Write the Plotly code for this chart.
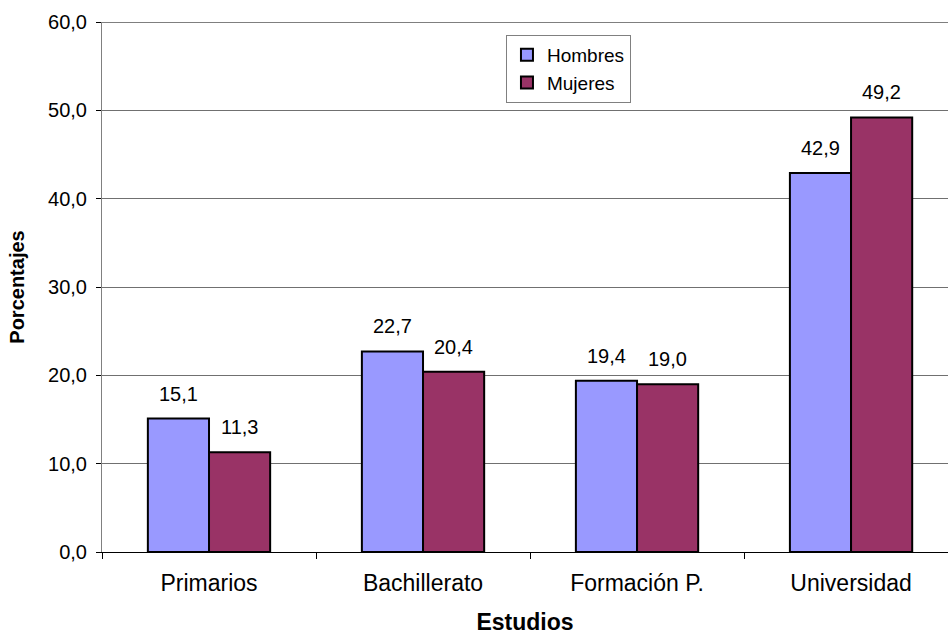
import plotly.graph_objects as go

# Nivel de estudios por sexo (%)
categorias = ["Primarios", "Bachillerato", "Formación P.", "Universidad"]
hombres = [15.1, 22.7, 19.4, 42.9]
mujeres = [11.3, 20.4, 19.0, 49.2]
y_ticks = [0, 10, 20, 30, 40, 50, 60]

FONT = "Liberation Sans, Arial, sans-serif"
COLOR_H = "#9999FF"
COLOR_M = "#993366"

fig = go.Figure()
fig.add_trace(go.Bar(
    name="Hombres", x=categorias, y=hombres,
    marker=dict(color=COLOR_H, line=dict(color="black", width=2)),
))
fig.add_trace(go.Bar(
    name="Mujeres", x=categorias, y=mujeres,
    marker=dict(color=COLOR_M, line=dict(color="black", width=2)),
))

def fmt(v):
    return f"{v:.1f}".replace(".", ",")

# Etiquetas de valor sobre cada barra
annotations = []
for serie, shift in ((hombres, -30.5), (mujeres, 30.5)):
    for cat, val in zip(categorias, serie):
        annotations.append(dict(
            x=cat, y=val, text=fmt(val), showarrow=False,
            xanchor="center", yanchor="bottom", xshift=shift, yshift=12,
            font=dict(family=FONT, size=20, color="black"),
        ))

fig.update_layout(
    width=948, height=635,
    margin=dict(l=102, r=0, t=22, b=83),
    paper_bgcolor="white", plot_bgcolor="white",
    separators=",.",
    barmode="group", bargap=0.4286, bargroupgap=0,
    font=dict(family=FONT, size=20, color="black"),
    annotations=annotations,
    showlegend=True,
    legend=dict(
        x=0.4775, y=0.9755, xanchor="left", yanchor="top",
        bgcolor="white", bordercolor="#808080", borderwidth=1,
        font=dict(family=FONT, size=19, color="black"),
        itemwidth=30,
    ),
    shapes=[dict(type="line", xref="paper", yref="y", x0=0, x1=1, y0=60, y1=60,
                 line=dict(color="black", width=1))],
    xaxis=dict(
        type="category", range=[-0.5, 3.453],
        tickson="boundaries", ticks="outside", ticklen=6, tickcolor="black",
        showline=True, linecolor="black", linewidth=1,
        showgrid=False, zeroline=False,
        tickfont=dict(family=FONT, size=23, color="black"),
        ticklabelstandoff=10,
        title=dict(text="<b>Estudios</b>", standoff=19,
                   font=dict(family=FONT, size=23, color="black")),
    ),
    yaxis=dict(
        range=[0, 60], tickvals=y_ticks, tickformat=".1f",
        ticks="outside", ticklen=5, tickcolor="black",
        showline=True, linecolor="#808080", linewidth=1,
        showgrid=True, gridcolor="#707070", gridwidth=1,
        zeroline=False,
        tickfont=dict(family=FONT, size=20, color="black"),
        ticklabelstandoff=5,
        title=dict(text="<b>Porcentajes</b>", standoff=18,
                   font=dict(family=FONT, size=20, color="black")),
    ),
)

fig.write_html("out.html")
